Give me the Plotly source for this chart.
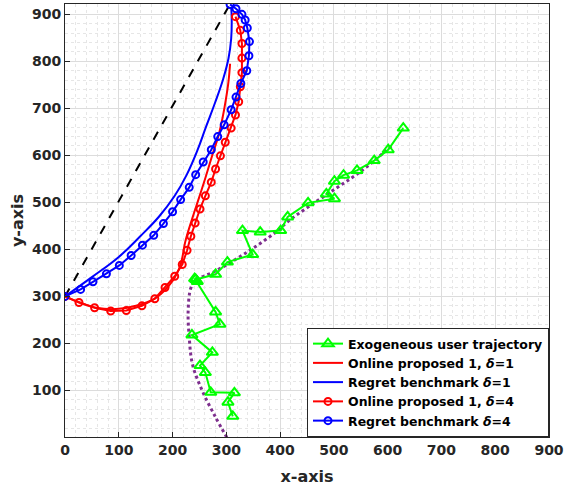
import plotly.graph_objects as go

# ---- data ----
user_x = [629, 601, 575, 543, 518, 501, 486, 501, 452, 414, 401, 363, 330, 349, 302, 280, 243, 246, 241,
          280, 288, 236, 274, 251, 261, 271, 315, 303, 312]
user_y = [658, 612, 589, 568, 558, 545, 518, 508, 499, 469, 440, 437, 440, 389, 373, 347, 336, 332, 338,
          267, 241, 218, 181, 153, 138, 96, 95, 75, 45]

pred_x = [301, 280, 255, 237, 231, 229, 234, 243, 280, 341, 390, 415, 452, 500, 550, 609]
pred_y = [0, 43, 100, 156, 213, 269, 318, 334, 354, 396, 435, 460, 490, 527, 566, 622]

straight_x = [0, 305]
straight_y = [300, 918]

red1_x = [0, 28, 58, 95, 132, 169, 200, 215, 224, 237, 249, 261, 274, 285, 293, 299, 304, 307]
red1_y = [300, 287, 276, 273, 280, 297, 333, 368, 418, 467, 509, 552, 601, 640, 680, 718, 757, 795]

blue1_x = [0, 50, 100, 140, 175, 204, 226, 246, 262, 279, 294, 304, 309, 310, 309]
blue1_y = [300, 341, 384, 428, 470, 514, 558, 610, 660, 712, 762, 806, 848, 891, 916]

red4_x = [0, 26, 55, 85, 114, 143, 167, 186, 204, 218, 227, 234, 242, 251, 261, 272, 280, 289, 298,
          309, 317, 323, 326, 329, 329, 329, 326, 317]
red4_y = [300, 287, 276, 269, 270, 280, 295, 319, 343, 368, 398, 428, 456, 486, 514, 543, 571, 599, 628,
          658, 686, 714, 746, 776, 807, 838, 866, 895]

blue4_x = [0, 29, 52, 77, 101, 123, 144, 165, 183, 200, 215, 231, 243, 257, 272, 284, 296, 309, 318,
           327, 338, 342, 343, 339, 335, 329, 318, 307]
blue4_y = [300, 315, 331, 348, 366, 387, 409, 430, 455, 480, 506, 532, 559, 586, 612, 640, 665, 697, 724,
           753, 780, 812, 842, 871, 888, 900, 912, 921]

x_ticks = [0, 100, 200, 300, 400, 500, 600, 700, 800, 900]
y_ticks = [100, 200, 300, 400, 500, 600, 700, 800, 900]

names = ["Exogeneous user trajectory",
         "Online proposed 1, <i>δ</i>=1",
         "Regret benchmark <i>δ</i>=1",
         "Online proposed 1, <i>δ</i>=4",
         "Regret benchmark <i>δ</i>=4"]

fig = go.Figure()

fig.add_trace(go.Scatter(x=straight_x, y=straight_y, mode="lines", showlegend=False,
                         line=dict(color="black", width=2, dash="dash")))
fig.add_trace(go.Scatter(x=pred_x, y=pred_y, mode="lines", showlegend=False,
                         line=dict(color="#7E2F8E", width=3, dash="dot", shape="spline")))

fig.add_trace(go.Scatter(x=user_x, y=user_y, mode="lines+markers", name=names[0],
                         line=dict(color="#00FF00", width=2),
                         marker=dict(symbol="triangle-up-open", size=10, color="#00FF00",
                                     line=dict(width=2, color="#00FF00"))))
fig.add_trace(go.Scatter(x=red1_x, y=red1_y, mode="lines", name=names[1],
                         line=dict(color="#FF0000", width=2, shape="spline", smoothing=1.0)))
fig.add_trace(go.Scatter(x=blue1_x, y=blue1_y, mode="lines", name=names[2],
                         line=dict(color="#0000FF", width=2, shape="spline", smoothing=1.2)))
fig.add_trace(go.Scatter(x=red4_x, y=red4_y, mode="lines+markers", name=names[3],
                         line=dict(color="#FF0000", width=2),
                         marker=dict(symbol="circle-open", size=7, color="#FF0000",
                                     line=dict(width=2, color="#FF0000"))))
fig.add_trace(go.Scatter(x=blue4_x, y=blue4_y, mode="lines+markers", name=names[4],
                         line=dict(color="#0000FF", width=2),
                         marker=dict(symbol="circle-open", size=7, color="#0000FF",
                                     line=dict(width=2, color="#0000FF"))))

axis_common = dict(
    showline=True, linecolor="#262626", linewidth=1, mirror=True,
    ticks="inside", ticklen=5, tickcolor="#262626",
    showgrid=True, gridcolor="#dcdcdc", gridwidth=1,
    zeroline=False,
    tickfont=dict(family="DejaVu Sans", size=14, color="#262626", weight="bold"),
    ticklabeloverflow="allow",
    minor=dict(dtick=20, showgrid=True, gridcolor="#e6e6e6", griddash="dot", gridwidth=1),
)

fig.update_xaxes(range=[0, 900], tickvals=x_ticks, ticktext=[str(v) for v in x_ticks],
                 title=dict(text="x-axis", standoff=14,
                            font=dict(family="DejaVu Sans", size=16, color="#262626", weight="bold")),
                 **axis_common)
fig.update_yaxes(range=[1, 922], tickvals=y_ticks, ticktext=[str(v) for v in y_ticks],
                 title=dict(text="y-axis", standoff=4,
                            font=dict(family="DejaVu Sans", size=16, color="#262626", weight="bold")),
                 **axis_common)

fig.update_layout(
    width=567, height=489,
    margin=dict(l=65, r=14, t=3, b=52),
    paper_bgcolor="white", plot_bgcolor="white",
    legend=dict(x=1, y=0, xanchor="right", yanchor="bottom",
                bgcolor="white", bordercolor="#262626", borderwidth=1,
                font=dict(family="DejaVu Sans", size=12.5, color="black", weight="bold"),
                tracegroupgap=0, itemwidth=30),
)

fig.write_html("out.html")
